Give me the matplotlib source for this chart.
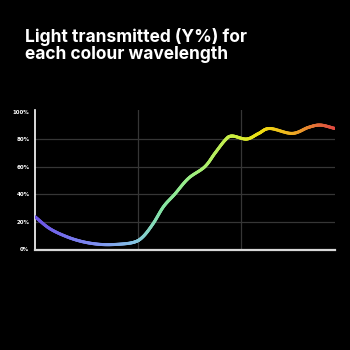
import numpy as np
import matplotlib
matplotlib.use("Agg")
import matplotlib.pyplot as plt
from matplotlib.collections import LineCollection
from matplotlib.colors import LinearSegmentedColormap

# wavelength (nm) and transmitted light Y (%)
wavelength = [380, 397, 417, 436, 456, 475, 495, 506, 518, 530, 543, 559,
              578, 590, 602, 610, 627, 641, 654, 680, 699, 713, 730]
transmitted = [23.6, 15.0, 9.0, 5.3, 3.4, 3.4, 4.9, 9.0, 18.7, 31.0, 40.0, 51.6,
               60.0, 70.0, 79.6, 82.5, 80.3, 84.4, 88.0, 84.4, 88.8, 90.5, 88.0]
y_ticks = [0, 20, 40, 60, 80, 100]
y_tick_labels = ["0%", "20%", "40%", "60%", "80%", "100%"]
x_marks = [500, 620]

title = "Light transmitted (Y%) for\neach colour wavelength"

# gradient along the curve
spectrum = LinearSegmentedColormap.from_list("spectrum", [
    (0.00, "#6b52e6"),
    (0.20, "#7f8ff2"),
    (0.33, "#86c4e6"),
    (0.42, "#84e3a6"),
    (0.52, "#9cef84"),
    (0.68, "#d2ee3a"),
    (0.75, "#f0e010"),
    (0.86, "#eeae22"),
    (0.95, "#e2683a"),
    (1.00, "#e04a40"),
])


def catmull_rom(xs, ys, n=20):
    # smooth path through the read points, for drawing only
    xs = np.asarray(xs, float)
    ys = np.asarray(ys, float)
    px = np.concatenate([[2 * xs[0] - xs[1]], xs, [2 * xs[-1] - xs[-2]]])
    py = np.concatenate([[2 * ys[0] - ys[1]], ys, [2 * ys[-1] - ys[-2]]])
    t = np.linspace(0, 1, n, endpoint=False)
    ox, oy = [], []
    for i in range(1, len(px) - 2):
        for p, o in ((px, ox), (py, oy)):
            p0, p1, p2, p3 = p[i - 1], p[i], p[i + 1], p[i + 2]
            o.extend(0.5 * (2 * p1 + (-p0 + p2) * t
                            + (2 * p0 - 5 * p1 + 4 * p2 - p3) * t ** 2
                            + (-p0 + 3 * p1 - 3 * p2 + p3) * t ** 3))
    ox.append(xs[-1])
    oy.append(ys[-1])
    return np.array(ox), np.array(oy)


fig = plt.figure(figsize=(3.5, 3.5), dpi=100, facecolor="black")
ax = fig.add_axes([0.1, 0.2857, 0.857, 0.4])
ax.set_facecolor("black")

ax.set_xlim(380, 730)
ax.set_ylim(-0.7, 101.5)

for y in y_ticks[1:-1]:
    ax.axhline(y, color="#363636", lw=0.9, zorder=1)
for x in x_marks:
    ax.axvline(x, color="#363636", lw=0.9, zorder=1)

sx, sy = catmull_rom(wavelength, transmitted)
pts = np.column_stack([sx, sy]).reshape(-1, 1, 2)
segs = np.concatenate([pts[:-1], pts[1:]], axis=1)
lc = LineCollection(segs, cmap=spectrum, linewidth=2.2, capstyle="round", zorder=3)
lc.set_array((sx[:-1] - 380) / 350)
lc.set_clim(0, 1)
ax.add_collection(lc)

for side in ["top", "right"]:
    ax.spines[side].set_visible(False)
ax.spines["left"].set_color("white")
ax.spines["bottom"].set_color("#d8d8d8")
ax.spines["left"].set_linewidth(1.2)
ax.spines["bottom"].set_linewidth(1.6)

ax.set_xticks([])
ax.set_yticks(y_ticks)
ax.set_yticklabels(y_tick_labels)
ax.tick_params(axis="y", length=0, pad=4, labelsize=4.0, labelcolor="white")
for lab in ax.get_yticklabels():
    lab.set_fontweight("bold")

fig.text(0.072, 0.82, title, color="white", fontsize=12.5, fontweight="bold",
         family="Inter", va="bottom", ha="left", linespacing=1.0)

plt.savefig("out.png", dpi=100, facecolor="black")
